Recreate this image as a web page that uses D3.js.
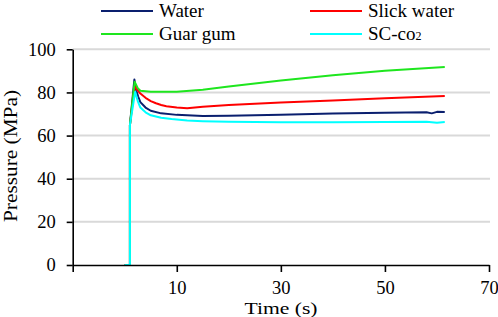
<!DOCTYPE html>
<html>
<head>
<meta charset="utf-8">
<script src="https://cdn.jsdelivr.net/npm/d3@7.9.0/dist/d3.min.js"></script>
<style>
  body { margin: 0; background: #fff; }
  svg { display: block; }
  svg text { font-family: "Liberation Serif", "Times New Roman", Times, "DejaVu Serif", serif !important; }
</style>
</head>
<body>
<svg id="chart" width="498" height="317"></svg>
<script>
// values
const seriesNames = ['Water', 'Slick water', 'Guar gum', 'SC-co2'];

const waterTime   = [0, 1, 1, 1.85, 2.2, 2.6, 3, 4, 5, 7, 10, 15, 20, 30, 40, 50, 58, 59, 60, 61.5];
const waterVals   = [0, 0, 65, 86, 81, 78, 75.5, 73, 71.5, 70.3, 69.6, 69.1, 69.2, 69.6, 70.2, 70.6, 70.8, 70.3, 71, 70.9];

const slickTime   = [0, 1, 1, 1.9, 3, 4, 5, 6, 7, 8, 10, 12, 15, 20, 30, 40, 50, 61.5];
const slickVals   = [0, 0, 65, 82.8, 79.5, 77.5, 76, 75, 74.2, 73.6, 73.0, 72.7, 73.4, 74.2, 75.3, 76.3, 77.3, 78.3];

const guarTime    = [0, 1, 1, 1.9, 2.5, 3, 5, 10, 15, 20, 30, 40, 50, 61.5];
const guarVals    = [0, 0, 65, 85, 82, 80.8, 80.3, 80.3, 81.2, 82.8, 85.5, 88, 90, 91.8];

const scTime      = [0, 1, 1, 2, 2.5, 3, 4, 5, 7, 9, 12, 15, 20, 30, 40, 50, 58, 60, 61.5];
const scVals      = [0, 0, 65, 80.3, 76, 73, 70.8, 69.4, 68.3, 67.7, 67.0, 66.7, 66.4, 66.2, 66.2, 66.3, 66.4, 66.0, 66.3];

const xTicks = [-10, 10, 30, 50, 70];
const yTicks = [0, 20, 40, 60, 80, 100];

const colors = ['#0a1f6e', '#ff0000', '#1ee61e', '#00ffff'];

const series = [
  { name: seriesNames[0], t: waterTime, v: waterVals, color: colors[0] },
  { name: seriesNames[1], t: slickTime, v: slickVals, color: colors[1] },
  { name: seriesNames[2], t: guarTime, v: guarVals, color: colors[2] },
  { name: seriesNames[3], t: scTime, v: scVals, color: colors[3] }
];

const svg = d3.select('#chart');
const plotLeft = 72.7, plotRight = 489, plotTop = 49.3, plotBottom = 265;

const x = d3.scaleLinear().domain([-10, 70]).range([plotLeft, plotRight]);
const y = d3.scaleLinear().domain([0, 100]).range([plotBottom, plotTop]);

// gridlines
svg.append('g')
  .selectAll('line')
  .data(yTicks.filter(d => d > 0))
  .join('line')
  .attr('x1', plotLeft).attr('x2', plotRight + 1)
  .attr('y1', d => y(d)).attr('y2', d => y(d))
  .attr('stroke', '#d9d9d9')
  .attr('stroke-width', 2);

// lines
const line = d3.line().x(d => x(d[0])).y(d => y(d[1]));
series.forEach(s => {
  svg.append('path')
    .datum(s.t.map((t, i) => [t, s.v[i]]))
    .attr('d', line)
    .attr('fill', 'none')
    .attr('stroke', s.color)
    .attr('stroke-width', 2)
    .attr('stroke-linejoin', 'round');
});

// axes
const xAxis = svg.append('g')
  .attr('transform', `translate(0,${plotBottom})`)
  .call(d3.axisBottom(x).tickValues(xTicks).tickSize(7).tickSizeOuter(0).tickPadding(9)
    .tickFormat(d => d < 0 ? '' : d));
const yAxis = svg.append('g')
  .attr('transform', `translate(${plotLeft},0)`)
  .call(d3.axisLeft(y).tickValues(yTicks).tickSize(6).tickSizeOuter(0).tickPadding(11));

[xAxis, yAxis].forEach(g => {
  g.attr('font-family', null);
  g.selectAll('path, line').attr('stroke', '#000').attr('stroke-width', 1.6);
  g.selectAll('text').attr('fill', '#000').style('font-size', '18.5px');
});

// axis titles
svg.append('text')
  .attr('x', 281).attr('y', 314)
  .attr('text-anchor', 'middle')
  .attr('textLength', 73).attr('lengthAdjust', 'spacingAndGlyphs')
  .style('font-size', '16.5px')
  .text('Time (s)');

svg.append('text')
  .attr('transform', 'translate(17,156) rotate(-90)')
  .attr('text-anchor', 'middle')
  .attr('textLength', 132).attr('lengthAdjust', 'spacingAndGlyphs')
  .style('font-size', '18px')
  .text('Pressure (MPa)');

// legend
const legendPos = [[101, 11], [310, 11], [101, 34], [310, 34]];
series.forEach((s, i) => {
  const [lx, ly] = legendPos[i];
  svg.append('line')
    .attr('x1', lx).attr('x2', lx + 52)
    .attr('y1', ly).attr('y2', ly)
    .attr('stroke', s.color).attr('stroke-width', 2.2);
  const t = svg.append('text')
    .attr('x', lx + 58).attr('y', ly + 6)
    .style('font-size', '19px');
  if (s.name === 'SC-co2') {
    t.append('tspan').text('SC-co');
    t.append('tspan').attr('font-size', '12px').text('2');
  } else {
    t.text(s.name);
  }
});
</script>
</body>
</html>
